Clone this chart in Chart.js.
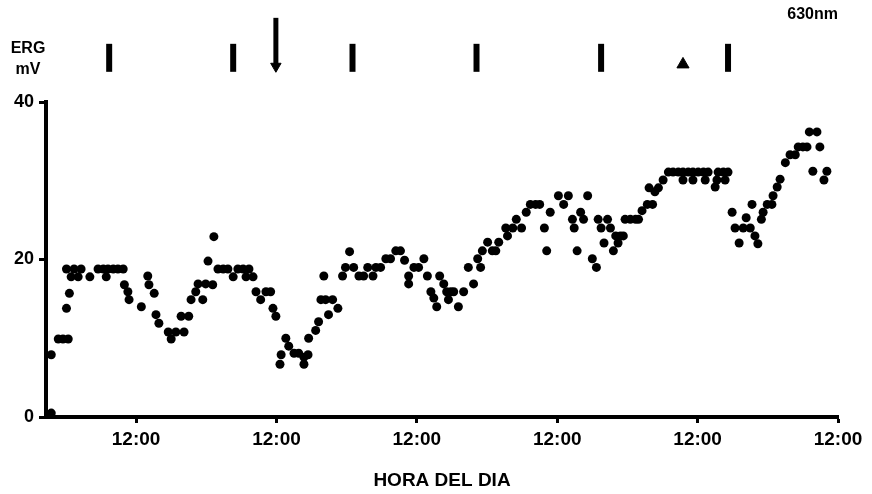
<!DOCTYPE html>
<html lang="es">
<head>
    <meta charset="UTF-8">
    <title>ERG 630nm</title>
    <script src="https://cdn.jsdelivr.net/npm/chart.js"></script>
    <style>
        body { margin: 0; background: #fff; }
        #wrap { width: 872px; height: 494px; position: relative; }
    </style>
</head>
<body>
    <div id="wrap"><canvas id="ergChart"></canvas></div>

    <script>
        // hours relative to the first 12:00 mark, ERG amplitude in mV
        const hours = [
            -14.5, -14.5, -13.3, -12.5, -11.6, -11.9, -11.4, -11.9, -11.1, -10.6, -9.9, -9.4, -7.9, -6.5, -5.6, -5.1, -4.8, -3.9, -3.1, -2.2, -2.0, -1.4, -1.2,
            0.9, 2.0, 2.2, 3.1, 3.4, 3.9, 5.5, 6.0, 6.8, 8.2, 7.7, 9.0, 9.4, 10.2, 11.4, 10.6, 11.9, 13.1, 12.3, 13.3,
            14.0, 14.9, 15.7, 16.6, 17.4, 18.3, 18.8, 19.3, 20.0, 20.5, 21.3, 22.2, 23.0, 23.4, 23.9,
            25.6, 26.1, 27.0, 27.8, 28.7, 29.4, 24.8, 24.6, 28.7, 29.5, 30.7, 31.2, 31.6,
            32.9, 32.4, 33.6, 34.5, 32.1, 35.3, 35.8, 37.2, 36.5, 38.1, 38.9, 39.6, 40.5, 41.0, 41.8, 42.7, 43.5, 44.4, 45.2, 45.9,
            46.6, 47.5, 48.3, 49.2, 46.6, 49.8, 50.4, 50.9, 51.4, 51.9, 52.6, 53.1, 53.8, 54.3, 53.4, 55.1, 56.0, 56.8, 57.7, 58.9, 58.4,
            59.2, 60.1, 60.9, 61.5, 62.0, 63.2, 63.5, 64.4, 65.0, 65.9, 66.7, 67.4, 68.3, 69.0, 69.8, 70.2, 70.8, 72.2, 73.1, 73.9, 74.6, 74.9, 75.4, 76.0, 76.5, 77.2, 78.0, 78.7, 79.0,
            79.5, 80.6, 81.1, 80.0, 81.6, 82.0, 82.8, 83.3, 82.4, 83.6, 84.5, 85.4, 85.9, 86.5, 87.4, 88.3, 87.7, 88.7, 89.3, 90.1,
            91.0, 91.8, 92.7, 93.5, 94.4, 95.2, 96.1, 97.0, 97.8, 99.5, 100.4, 101.2,
            93.5, 95.2, 97.3, 99.3, 100.7, 99.0,
            101.9, 102.4, 103.8, 105.0, 104.3, 105.3, 103.1, 105.8, 106.3, 106.9, 107.2, 107.9, 108.7, 108.9, 109.6, 110.1,
            111.0, 111.8, 112.7, 113.2, 114.0, 114.7, 115.1, 116.4, 116.9, 115.7, 118.1, 117.6
        ];
        const ergMv = [
            7.9, 0.5, 9.9, 9.9, 9.9, 13.8, 15.7, 18.8, 17.8, 18.8, 17.8, 18.8, 17.8, 18.8, 18.8, 17.8, 18.8, 18.8, 18.8, 18.8, 16.8, 15.9, 14.9,
            14.0, 17.9, 16.8, 15.7, 13.0, 11.9, 10.8, 9.9, 10.8, 10.8, 12.8, 12.8, 14.9, 15.9, 14.9, 16.9, 16.9, 16.8, 19.8, 22.9,
            18.8, 18.8, 18.8, 17.8, 18.8, 18.8, 17.8, 18.8, 17.8, 15.9, 14.9, 15.9, 15.9, 13.8, 12.8,
            10.0, 9.0, 8.1, 8.1, 7.6, 7.9, 7.9, 6.7, 6.7, 10.0, 11.0, 12.1, 14.9,
            13.0, 14.9, 14.9, 13.8, 17.9, 17.9, 19.0, 19.0, 21.0, 17.9, 17.9, 19.0, 17.9, 19.0, 19.0, 20.1, 20.1, 21.1, 21.1, 19.9,
            17.9, 19.0, 19.0, 20.1, 16.9, 17.9, 15.9, 15.1, 14.0, 17.9, 16.9, 15.9, 15.9, 15.9, 14.9, 14.0, 15.9, 19.0, 16.9, 19.0, 20.1,
            21.1, 22.2, 21.1, 21.1, 22.2, 24.0, 23.0, 24.0, 25.1, 24.0, 26.0, 27.0, 27.0, 27.0, 24.0, 21.1, 26.0, 28.1, 27.0, 28.1, 25.1, 24.0, 21.1, 26.0, 25.1, 28.1, 20.1, 19.0, 25.1,
            24.0, 25.1, 24.0, 22.1, 21.1, 23.0, 23.0, 23.0, 22.1, 25.1, 25.1, 25.1, 25.1, 26.2, 27.0, 27.0, 29.1, 28.6, 29.1, 30.1,
            31.1, 31.1, 31.1, 31.1, 31.1, 31.1, 31.1, 31.1, 31.1, 31.1, 31.1, 31.1,
            30.1, 30.1, 30.1, 30.1, 30.1, 29.2,
            26.0, 24.0, 24.0, 24.0, 25.3, 27.0, 22.1, 23.0, 22.0, 25.1, 26.0, 27.0, 27.0, 28.1, 29.2, 30.2,
            32.3, 33.3, 33.3, 34.3, 34.3, 34.3, 36.2, 36.2, 34.3, 31.2, 31.2, 30.1
        ];

        // event marks above the plot
        const barHours = [-4.6, 16.6, 37.0, 58.2, 79.5, 101.2];
        const arrowHours = [23.9];
        const triangleHours = [93.5];

        const xTickHours = [0, 24, 48, 72, 96, 120];
        const xTickLabel = '12:00';
        const yTicks = [0, 20, 40];

        const FONT = 'Liberation Sans';

        const textPlugin = {
            id: 'ergText',
            afterDraw(chart) {
                const ctx = chart.ctx;
                const y = chart.scales.y;
                const area = chart.chartArea;
                ctx.save();
                ctx.fillStyle = '#000';
                ctx.font = `bold 16px "${FONT}"`;
                ctx.textAlign = 'center';
                ctx.textBaseline = 'middle';
                ctx.fillText('ERG', 28, y.top - 53);
                ctx.fillText('mV', 28, y.top - 32);
                ctx.textAlign = 'right';
                ctx.fillText('630nm', area.right, area.top + 7);
                ctx.restore();
            }
        };

        const markY = (arr, level) => arr.map(h => ({ x: h, y: level }));

        new Chart(document.getElementById('ergChart'), {
            type: 'scatter',
            data: {
                datasets: [
                    {
                        data: hours.map((h, i) => ({ x: h, y: ergMv[i] })),
                        yAxisID: 'y',
                        pointRadius: 4.5,
                        backgroundColor: '#000',
                        borderWidth: 0
                    },
                    {
                        data: markY(barHours, 0.47),
                        yAxisID: 'yMark',
                        pointStyle: 'line',
                        rotation: 90,
                        pointRadius: 14,
                        borderWidth: 6,
                        borderColor: '#000'
                    },
                    {
                        data: markY(arrowHours, 0.64),
                        yAxisID: 'yMark',
                        pointStyle: 'line',
                        rotation: 90,
                        pointRadius: 24,
                        borderWidth: 5,
                        borderColor: '#000'
                    },
                    {
                        data: markY(arrowHours, 0.38),
                        yAxisID: 'yMark',
                        pointStyle: 'triangle',
                        rotation: 180,
                        pointRadius: 6,
                        backgroundColor: '#000',
                        borderColor: '#000',
                        borderWidth: 1
                    },
                    {
                        data: markY(triangleHours, 0.40),
                        yAxisID: 'yMark',
                        pointStyle: 'triangle',
                        pointRadius: 7,
                        backgroundColor: '#000',
                        borderColor: '#000',
                        borderWidth: 1
                    }
                ]
            },
            options: {
                responsive: true,
                maintainAspectRatio: false,
                animation: false,
                events: [],
                layout: { autoPadding: false, padding: { top: 8, right: 34, left: 0, bottom: 0 } },
                plugins: {
                    legend: { display: false },
                    tooltip: { enabled: false }
                },
                scales: {
                    x: {
                        type: 'linear',
                        min: -15.4,
                        max: 120,
                        afterBuildTicks: s => { s.ticks = xTickHours.map(v => ({ value: v })); },
                        afterFit: s => { s.height = 77; },
                        ticks: {
                            callback: () => xTickLabel,
                            color: '#000',
                            font: { family: FONT, size: 19, weight: 'bold' },
                            padding: 5,
                            maxRotation: 0,
                            autoSkip: false
                        },
                        grid: { drawOnChartArea: false, tickLength: 6, tickWidth: 3, tickColor: '#000' },
                        border: { color: '#000', width: 4 },
                        title: {
                            display: true,
                            text: 'HORA DEL DIA',
                            color: '#000',
                            font: { family: FONT, size: 19, weight: 'bold' },
                            padding: { top: 4, bottom: 2 }
                        }
                    },
                    y: {
                        type: 'linear',
                        position: 'left',
                        stack: 'erg',
                        stackWeight: 315,
                        min: 0,
                        max: 40,
                        afterBuildTicks: s => { s.ticks = yTicks.map(v => ({ value: v })); },
                        afterFit: s => { s.width = 46; s.paddingTop = 0; s.paddingBottom = 0; },
                        ticks: {
                            color: '#000',
                            font: { family: FONT, size: 18, weight: 'bold' },
                            padding: 5
                        },
                        grid: { drawOnChartArea: false, tickLength: 7, tickWidth: 3, tickColor: '#000' },
                        border: { color: '#000', width: 4 }
                    },
                    yMark: {
                        type: 'linear',
                        position: 'left',
                        stack: 'erg',
                        stackWeight: 94,
                        min: 0,
                        max: 1,
                        ticks: { display: false },
                        grid: { display: false },
                        border: { display: false },
                        afterFit: s => { s.width = 46; s.paddingTop = 0; s.paddingBottom = 0; }
                    }
                }
            },
            plugins: [textPlugin]
        });
    </script>
</body>
</html>
